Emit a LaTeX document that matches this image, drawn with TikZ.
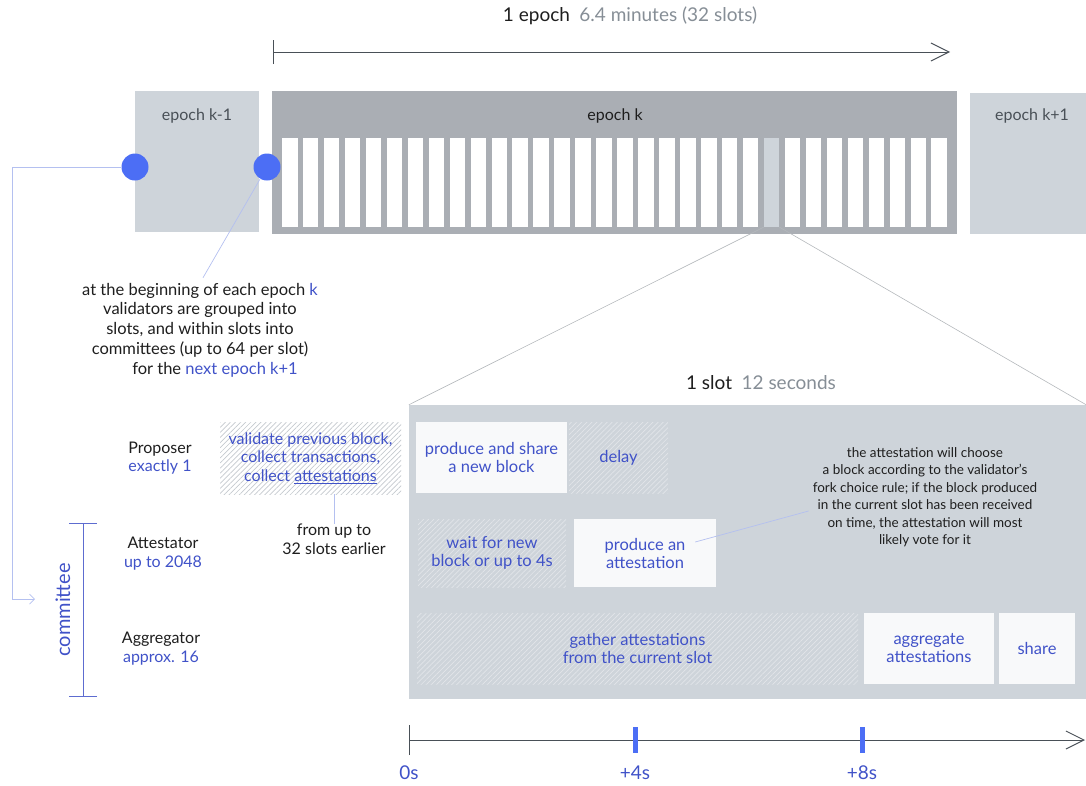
\documentclass[tikz,border=0pt]{standalone}
\usepackage{fontspec}
\setmainfont{Lato}
\usetikzlibrary{
    patterns.meta,
    arrows.meta,
    calc
}
\definecolor{ink}{HTML}{1E1E1E}
\definecolor{muted}{HTML}{868E96}
\definecolor{bluetext}{HTML}{4052C8}
\definecolor{dotblue}{HTML}{4C6EF5}
\definecolor{leaderblue}{HTML}{B4C0F0}
\definecolor{epochlight}{HTML}{CED4DA}
\definecolor{epochdark}{HTML}{AAAEB4}
\definecolor{taskwhite}{HTML}{F8F9FA}
\definecolor{hatchdark}{HTML}{C4C9CE}
\definecolor{hatchlight}{HTML}{E2E5E9}
\definecolor{axisgray}{HTML}{495057}
\definecolor{zoomgray}{HTML}{B4B8BC}

\tikzset {
    plain text/.style = {inner sep = 0pt, text = ink, font = \fontsize{16}{18.5}\selectfont},
    blue text/.style = {plain text, text = bluetext},
    big text/.style = {plain text, font = \fontsize{19}{22}\selectfont},
    small text/.style = {inner sep = 0pt, text = ink, align = center,
        font = \fontsize{13.5}{17.5}\selectfont},
    epoch box/.style = {rectangle, fill = epochlight, inner sep = 0pt},
    slot/.style = {rectangle, fill = white, inner sep = 0pt,
        minimum width = 15.5pt, minimum height = 89pt},
    task box/.style = {rectangle, fill = taskwhite, inner sep = 0pt, align = center,
        text = bluetext, font = \fontsize{16.5}{18}\selectfont},
    hatch box/.style = {rectangle, inner sep = 0pt, align = center,
        text = bluetext, font = \fontsize{16.5}{18}\selectfont,
        pattern = {Lines[angle = 45, distance = 3.6pt, line width = 0.7pt]},
        pattern color = #1},
    dot/.style = {circle, fill = dotblue, minimum size = 27pt, inner sep = 0pt},
    leader/.style = {draw = leaderblue, line width = 0.7pt},
    zoom line/.style = {draw = zoomgray, line width = 0.6pt},
    time axis/.style = {draw = axisgray, line width = 1pt,
        {Bar[width = 24pt]}-{Straight Barb[length = 18pt, width = 18pt]}},
    tick mark/.style = {rectangle, fill = dotblue, inner sep = 0pt,
        minimum width = 5pt, minimum height = 26pt},
    bracket/.style = {draw = bluetext!85, line width = 1pt,
        {Bar[width = 28pt]}-{Bar[width = 28pt]}}
}

\begin{document}
\begin{tikzpicture}[x = 1pt, y = -1pt]
    \useasboundingbox (0, 0) rectangle (1086, 785);

    % epoch header
    \coordinate (epochstart) at (273, 52);
    \coordinate (epochend) at (950, 52);
    \draw [time axis] (epochstart) -- (epochend);
    \node (epochtitle) [big text] at (630, 16)
        {1 epoch\enspace\textcolor{muted}{6.4 minutes (32 slots)}};

    % epochs
    \node (prev) [epoch box, minimum width = 124pt, minimum height = 141pt] at (197, 161.5) {};
    \node (curr) [epoch box, fill = epochdark, minimum width = 685pt, minimum height = 143pt] at (614.5, 162.5) {};
    \node (next) [epoch box, minimum width = 116pt, minimum height = 141pt] at (1028, 163.5) {};
    \node (prevtitle) [plain text, text = axisgray] at (197, 116) {epoch k-1};
    \node (currtitle) [plain text] at (615, 116) {epoch k};
    \node (nexttitle) [plain text, text = axisgray] at (1032, 116) {epoch k+1};
    \foreach \i in {0, ..., 31} {
        \node (slot-\i) [slot] at ({289.75 + 20.95 * \i}, 182.5) {};
    }
    \node (slot-23) [slot, fill = epochlight] at ({289.75 + 20.95 * 23}, 182.5) {};

    % shuffling note
    \node (note) [plain text, align = center, font = \fontsize{16.5}{19.7}\selectfont] at (200, 330)
        {at the beginning of each epoch \textcolor{bluetext}{k}\\
         validators are grouped into\\
         slots, and within slots into\\
         committees (up to 64 per slot)\\
         \hspace*{30pt}for the \textcolor{bluetext}{next epoch k+1}};
    \node (dot1) [dot] at (135, 167) {};
    \node (dot2) [dot] at (267, 167) {};
    \draw [leader] (dot2) -- (note.north) [shorten > = 6pt];
    \coordinate (bend) at (12, 599);
    \coordinate (committeein) at (35, 599);
    \draw [leader, -{Straight Barb[length = 5pt, width = 10pt]}]
        (dot1.west) -| (bend) -- (committeein);

    % roles
    \node (proposer) [plain text, align = center] at (160, 458)
        {Proposer\\\textcolor{bluetext}{exactly 1}};
    \node (attestator) [plain text, align = center] at (163, 553.5)
        {Attestator\\\textcolor{bluetext}{up to 2048}};
    \node (aggregator) [plain text, align = center] at (161, 648.5)
        {Aggregator\\\textcolor{bluetext}{approx. 16}};
    \coordinate (ctop) at (83, 523);
    \coordinate (cbot) at (83, 697);
    \draw [bracket] (ctop) -- (cbot);
    \node (committee) [blue text, font = \fontsize{20}{22}\selectfont, rotate = 90] at (63, 610) {committee};

    \node (validate) [hatch box = hatchdark, minimum width = 181pt, minimum height = 72pt,
        font = \fontsize{16}{18.5}\selectfont] at (310.5, 458)
        {validate previous block,\\collect transactions,\\collect \underline{attestations}};
    \node (earlier) [plain text, align = center] at (334, 539)
        {from up to\\32 slots earlier};
    \draw [leader] (earlier.north |- validate.south) -- (earlier.north);

    % one slot
    \node (slottitle) [big text] at (761, 383) {1 slot\enspace\textcolor{muted}{12 seconds}};
    \node (slotbox) [epoch box, minimum width = 677pt, minimum height = 294pt] at (747.5, 552) {};
    \draw [zoom line] (slot-23.south west) -- (slotbox.north west);
    \draw [zoom line] (slot-23.south east) -- (slotbox.north east);

    \node (produce) [task box, minimum width = 151pt, minimum height = 71pt] at (491.5, 457.5)
        {produce and share\\a new block};
    \node (delay) [hatch box = hatchlight, minimum width = 99pt, minimum height = 71pt] at (618.5, 457.5)
        {delay};
    \node (wait) [hatch box = hatchlight, minimum width = 148pt, minimum height = 68pt] at (492, 553)
        {wait for new\\block or up to 4s};
    \node (attest) [task box, minimum width = 142pt, minimum height = 68pt] at (645, 553)
        {produce an\\attestation};
    \node (gather) [hatch box = hatchlight, minimum width = 441pt, minimum height = 71pt] at (637.5, 648.5)
        {gather attestations\\from the current slot};
    \node (aggregate) [task box, minimum width = 130pt, minimum height = 71pt] at (929, 648.5)
        {aggregate\\attestations};
    \node (share) [task box, minimum width = 76pt, minimum height = 71pt] at (1037, 648.5)
        {share};

    \node (rule) [small text] at (925, 497)
        {the attestation will choose\\
         a block according to the validator's\\
         fork choice rule; if the block produced\\
         in the current slot has been received\\
         on time, the attestation will most\\
         likely vote for it};
    \draw [leader] ($(attest.east) + (-21, -11)$) -- ($(rule.west) + (-4, 14)$);

    % slot timeline
    \coordinate (t0) at (409, 740);
    \coordinate (tend) at (1085, 740);
    \draw [time axis, {Bar[width = 30pt]}-{Straight Barb[length = 18pt, width = 18pt]}] (t0) -- (tend);
    \node (t4) [tick mark] at (635, 740) {};
    \node (t8) [tick mark] at (862, 740) {};
    \node (l0) [blue text, font = \fontsize{19}{22}\selectfont] at (409, 773) {0s};
    \node (l4) [blue text, font = \fontsize{19}{22}\selectfont] at (635, 773) {+4s};
    \node (l8) [blue text, font = \fontsize{19}{22}\selectfont] at (862, 773) {+8s};
\end{tikzpicture}
\end{document}
